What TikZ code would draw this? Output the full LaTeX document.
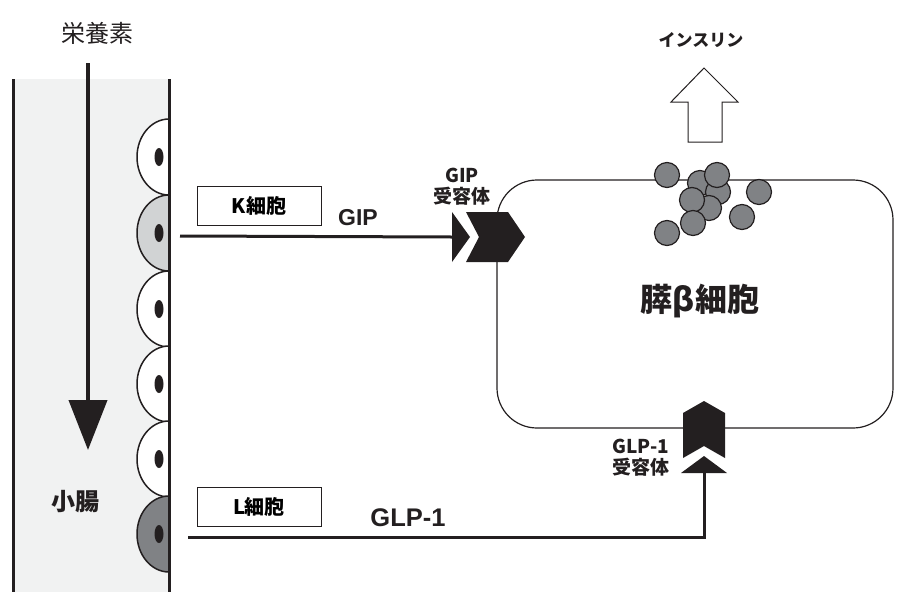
\documentclass[tikz,border=0pt]{standalone}
\usepackage{fontspec}
\setmainfont{Liberation Sans}
\newfontfamily\jp{Noto Sans CJK JP}
\usetikzlibrary{arrows.meta}
\definecolor{ink}{HTML}{231F20}
\definecolor{wall}{HTML}{F1F2F2}
\definecolor{kgray}{HTML}{D1D3D4}
\definecolor{lgray}{HTML}{808285}
\newcommand{\fsz}[1]{\fontsize{#1}{#1}\selectfont}
\begin{document}
\begin{tikzpicture}[x=1pt,y=-1pt,
  lbl/.style={text=ink,inner sep=0pt,font=\jp\bfseries\fsz{#1}},
  cellbox/.style={draw=ink,line width=1,minimum width=124pt,minimum height=39pt,inner sep=0pt,font=\jp\bfseries\fsz{20}},
  signal/.style={draw=ink,line width=3}]
\useasboundingbox (0,0) rectangle (905,592);
% small intestine
\fill[wall] (13,79) rectangle (169,592);
\draw[ink,line width=3] (13,79) -- (13,592);
\node[text=ink,font=\jp\fsz{24}] (food) at (97,33) {栄養素};
\coordinate (flowtop) at (88,63);
\coordinate (flowend) at (88,450);
\draw[ink,line width=4,-{Triangle[width=38pt,length=50pt]}] (flowtop) -- (flowend);
\node[lbl=24] (gut) at (75,502) {小腸};
% epithelial cells, edit here for fills
\foreach \cy/\cfill in {157/white,233/kgray,309/white,384/white,459/white,534/lgray}
{
\filldraw[fill=\cfill,draw=ink,line width=1.5] (169,{\cy-38}) arc[start angle=270,end angle=90,x radius=32,y radius=38] -- cycle;
\fill[ink] (159,\cy) ellipse[x radius=4.5,y radius=9];
}
\draw[ink,line width=3] (169,79) -- (169,592);
\node[cellbox] (kbox) at (259,206) {K細胞};
\node[cellbox] (lbox) at (259,507) {L細胞};
% beta cell
\draw[ink,line width=1.2,rounded corners=40] (497,180) rectangle (893,428);
\node[lbl=32] (beta) at (700,301) {膵β細胞};
% insulin granules
\foreach \gx/\gy in {700/183,718/192,717/175,709/208,692/200,693/223,667/175,667/233,742/217,759/192}
\filldraw[fill=lgray,draw=ink,line width=1.2] (\gx,\gy) circle[radius=12.5];
\node[lbl=17] (ins) at (701,40) {インスリン};
\draw[ink,line width=1,fill=white] (688,142) -- (688,102) -- (671,102) -- (704,68) -- (738,102) -- (722,102) -- (722,142) -- cycle;
% GIP path
\coordinate (kcell) at (180,236);
\coordinate (giprec) at (452,237);
\draw[signal] (kcell) -- (giprec);
\node[text=ink,font=\bfseries\fsz{23},inner sep=0pt] (gip) at (358,218) {GIP};
\fill[ink,shift={(giprec)}] (0,-25) -- (18,0) -- (0,25) -- cycle;
\fill[ink,shift={(giprec)}] (14,-25) -- (56,-25) -- (73,0) -- (56,25) -- (14,25) -- (27,0) -- cycle;
\node[lbl=19,align=center] (giplbl) at (462,187) {GIP\\[2pt]受容体};
% GLP-1 path
\coordinate (lcell) at (188,537);
\coordinate (glprec) at (704,473);
\draw[signal] (lcell) -| (glprec);
\node[text=ink,font=\bfseries\fsz{25.5},inner sep=0pt] (glp) at (408,518) {GLP-1};
\fill[ink,shift={(glprec)}] (-23,0) -- (0,-17) -- (23,0) -- cycle;
\fill[ink,shift={(glprec)}] (-21,-15) -- (-21,-60) -- (0,-72) -- (21,-60) -- (21,-15) -- (0,-27) -- cycle;
\node[lbl=19,align=center] (glplbl) at (641,458) {GLP-1\\[2pt]受容体};
\end{tikzpicture}
\end{document}
